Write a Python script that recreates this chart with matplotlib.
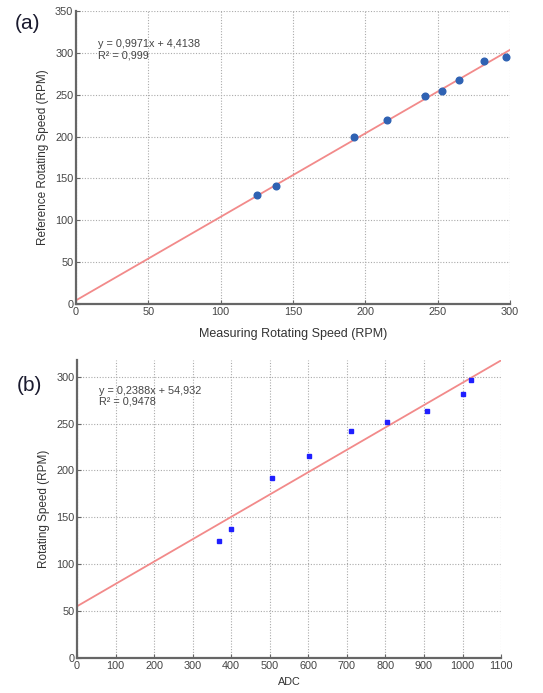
import matplotlib
matplotlib.use("Agg")
import matplotlib.pyplot as plt
import numpy as np

# panel (a): measured vs reference speed
meas_rpm = [125, 138, 192, 215, 241, 253, 265, 282, 297]
ref_rpm = [130, 141, 199, 220, 249, 254, 268, 290, 295]
fit_a = (0.9971, 4.4138)
eq_a = ["y = 0,9971x + 4,4138", "R² = 0,999"]

# panel (b): ADC reading vs speed
adc = [369, 400, 506, 603, 712, 805, 908, 1000, 1022]
speed_rpm = [125, 137, 192, 215, 242, 252, 264, 282, 297]
fit_b = (0.2388, 54.932)
eq_b = ["y = 0,2388x + 54,932", "R² = 0,9478"]

plt.rcParams.update({"font.family": ["Liberation Sans", "DejaVu Sans"]})

fig = plt.figure(figsize=(5.43, 6.93), dpi=100)
ax1 = fig.add_axes([0.140, 0.5613, 0.799, 0.4228])
ax2 = fig.add_axes([0.1418, 0.0509, 0.781, 0.4296])


def style(ax):
    for s in ("top", "right"):
        ax.spines[s].set_visible(False)
    for s in ("left", "bottom"):
        ax.spines[s].set_color("#666666")
        ax.spines[s].set_linewidth(1.6)
    ax.grid(True, linestyle=(0, (1, 1.5)), color="#aaaaaa", linewidth=0.8)
    ax.tick_params(direction="in", length=3, width=0.8, color="#666666",
                   labelsize=7.8, labelcolor="#444444", pad=2)
    ax.set_axisbelow(True)


# (a)
xa = np.array([0, 300])
ax1.plot(xa, fit_a[0] * xa + fit_a[1], color="#f28a8a", lw=1.3, zorder=2)
ax1.plot(meas_rpm, ref_rpm, "o", color="#2f62b3", ms=4.8, zorder=3)
ax1.set_xlim(0, 300)
ax1.set_ylim(0, 350)
ax1.set_xticks(range(0, 301, 50))
ax1.set_yticks(range(0, 351, 50))
style(ax1)
ax1.set_xlabel("Measuring Rotating Speed (RPM)", fontsize=9, color="#333333", labelpad=8)
ax1.set_ylabel("Reference Rotating Speed (RPM)", fontsize=8.5, color="#333333", labelpad=4)
ax1.text(15, 316, eq_a[0] + "\n" + eq_a[1], fontsize=7.8, color="#444444",
         va="top", ha="left", linespacing=1.15)
fig.text(0.028, 0.966, "(a)", fontsize=15, color="#1a1a2e", va="center")

# (b)
xb = np.array([0, 1100])
ax2.plot(xb, fit_b[0] * xb + fit_b[1], color="#f28a8a", lw=1.3, zorder=2)
ax2.plot(adc, speed_rpm, "s", color="#1f1fff", ms=2.4, zorder=3)
ax2.set_xlim(0, 1100)
ax2.set_ylim(0, 318)
ax2.set_xticks(range(0, 1101, 100))
ax2.set_yticks(range(0, 301, 50))
style(ax2)
ax2.set_xlabel("ADC", fontsize=7.8, color="#333333", labelpad=5)
ax2.set_ylabel("Rotating Speed (RPM)", fontsize=8.5, color="#333333", labelpad=4)
ax2.text(57, 290, eq_b[0] + "\n" + eq_b[1], fontsize=7.8, color="#444444",
         va="top", ha="left", linespacing=1.02)
fig.text(0.03, 0.444, "(b)", fontsize=15, color="#1a1a2e", va="center")

fig.savefig("out.png", dpi=100)
